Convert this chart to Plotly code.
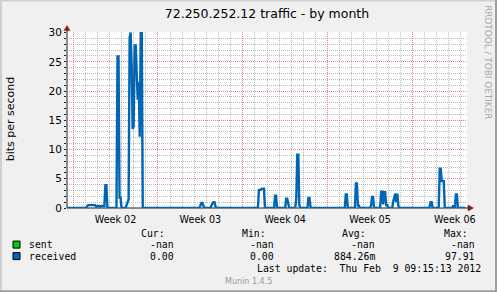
import plotly.graph_objects as go
import pandas as pd

# ---------------- data ----------------
title_text = "72.250.252.12 traffic - by month"
y_label = "bits per second"
base_time = pd.Timestamp("2012-01-08 00:00")   # Sunday, start of Week 02
range_start_hours = -12      # 2012-01-07 12:00
range_end_hours = 780        # 2012-02-09 12:00
data_start_hours = -12
data_end_hours = 777         # last update 2012-02-09 09:15
step_hours = 2

# spikes of the "received" series: start (hours after base_time) and consecutive 2h samples
seg_start_hours = [28, 88, 106, 252, 274, 368, 400, 422, 442, 466,
                   540, 560, 590, 610, 634, 706, 726, 752]
seg_values = [
    [0.3, 0.5, 0.5, 0.5, 0.5, 0.5, 0.5, 0.5, 0.5, 0.2, 0.35, 0.35, 0.35, 0.2,
     0.35, 0.35, 0.35, 0.35, 3.9, 3.9],
    [25.9, 25.9, 1.8, 1.8],
    [0.5, 1.0, 1.5, 29.2, 30, 24.5, 13.5, 14.0, 27.8, 27.8, 23, 18.5, 21.5, 12.2, 30, 30],
    [0.4, 0.85, 0.85, 0.3],
    [0.5, 0.8, 1.0, 1.0, 0.3],
    [3.1, 3.1, 3.1, 3.3, 3.3, 3.3],
    [2.1, 2.1],
    [1.6, 1.6, 0.8],
    [1.7, 9.1, 9.1, 0.5],
    [1.7, 1.7, 0.3],
    [2.3, 2.3],
    [4.2, 4.2, 0.4, 0.4],
    [0.4, 1.9, 1.9],
    [2.8, 2.8, 0.6, 2.7, 2.7, 0.5, 0.5],
    [1.1, 1.6, 2.45, 1.0, 2.45, 0.4],
    [0.2, 1.0, 1.0],
    [6.7, 6.7, 4.6, 4.6, 4.6],
    [0.3, 0.3, 0, 2.3, 2.3],
]

legend_names = ["sent", "received"]
legend_colors = ["#00CC00", "#0066B3"]
stat_headers = ["Cur:", "Min:", "Avg:", "Max:"]
stats_sent = ["-nan", "-nan", "-nan", "-nan"]
stats_received = ["0.00", "0.00", "884.26m", "97.91"]
last_update = "Last update:  Thu Feb  9 09:15:13 2012"
footer = "Munin 1.4.5"
watermark = "RRDTOOL / TOBI OETIKER"

# ---------------- build series ----------------
hours, vals = [data_start_hours], [0]
for s, seg in zip(seg_start_hours, seg_values):
    hours.append(s - step_hours); vals.append(0)
    for i, v in enumerate(seg):
        hours.append(s + i * step_hours); vals.append(v)
    hours.append(s + len(seg) * step_hours); vals.append(0)
hours.append(data_end_hours); vals.append(0)
times = [base_time + pd.Timedelta(hours=h) for h in hours]

x_range = [base_time + pd.Timedelta(hours=range_start_hours),
           base_time + pd.Timedelta(hours=range_end_hours)]
# minor (daily) grid positions, excluding the weekly major lines
day_grid = [d for d in pd.date_range("2012-01-08", "2012-02-10", freq="D") if d.dayofweek != 6]
y_minor = [v for v in range(0, 31) if v % 5]

# ---------------- layout geometry ----------------
W, H = 497, 292
ML, MR = 67, 30
PB = 208.0          # pixel y of value 0
Y_TOP = 30.1
PX_PER_UNIT = 175.0 / 30.0
plot_h = Y_TOP * PX_PER_UNIT
MT = PB - plot_h
MB = H - PB
plot_w = W - ML - MR


def xp(px):
    return (px - ML) / plot_w


def yp(py):
    return (PB - py) / plot_h


MONO = "DejaVu Sans Mono"
SANS = "DejaVu Sans"
MGRID = "rgba(222,79,79,0.7)"
GRID = "rgba(143,143,143,0.6)"

fig = go.Figure()
fig.add_trace(go.Scatter(x=times, y=vals, mode="lines",
                         line=dict(color=legend_colors[1], width=2.4),
                         hoverinfo="skip", showlegend=False))

annotations = []


def ann(text, px, py, xanchor="left", size=9.8, color="#000000", family=MONO, angle=0):
    annotations.append(dict(text=text.replace(" ", "\u00a0"), x=xp(px), y=yp(py),
                            xref="paper", yref="paper", showarrow=False,
                            xanchor=xanchor, yanchor="middle", textangle=angle,
                            font=dict(family=family, size=size, color=color)))


ann(y_label, 10.5, 119, "center", size=11, family=SANS, angle=-90)
ann(watermark, 488.5, 62, "center", size=8.9, color="#A8A8A8", family=SANS, angle=90)

hdr_right = [167, 268, 368, 470]
val_right = [176, 276, 377, 477]
for t, r in zip(stat_headers, hdr_right):
    ann(t, r, 233.3, "right")
ann(legend_names[0], 26.5, 244.5)
ann(legend_names[1], 26.5, 256)
for t, r in zip(stats_sent, val_right):
    ann(t, r, 244.5, "right")
for t, r in zip(stats_received, val_right):
    ann(t, r, 256, "right")
ann(last_update, 483, 268.7, "right")
ann(footer, 248, 281.7, "center", size=8, color="#999999", family=SANS)

shapes = []


def rect(x0, y0, x1, y1, fill, line_color, lw=1, layer="above"):
    shapes.append(dict(type="rect", xref="paper", yref="paper",
                       x0=xp(x0), x1=xp(x1), y0=yp(y0), y1=yp(y1),
                       fillcolor=fill, line=dict(color=line_color, width=lw), layer=layer))


def line(x0, y0, x1, y1, color, lw=1, layer="above"):
    shapes.append(dict(type="line", xref="paper", yref="paper",
                       x0=xp(x0), x1=xp(x1), y0=yp(y0), y1=yp(y1),
                       line=dict(color=color, width=lw), layer=layer))


def tri(points, color):
    path = "M " + " L ".join(f"{xp(a)},{yp(b)}" for a, b in points) + " Z"
    shapes.append(dict(type="path", xref="paper", yref="paper", path=path,
                       fillcolor=color, line=dict(color=color, width=0.5), layer="above"))


# outer frame (shade)
line(0, 1, W, 1, "#CFCFCF", 2)
line(1, 0, 1, H, "#CFCFCF", 2)
line(0, H - 1, W, H - 1, "#9E9E9E", 2)
line(W - 1, 0, W - 1, H, "#9E9E9E", 2)

# axes with arrows
line(67, PB, 469, PB, "#1F1F1F", 1, layer="between")
line(67, PB, 67, 30, "#1F1F1F", 1, layer="between")
tri([(64, 31), (70, 31), (67, 26)], "#801F1F")
tri([(468, 205), (468, 211), (473.5, 208)], "#801F1F")

# legend squares
rect(13, 241, 20, 248, legend_colors[0], "#000000", 1)
rect(13, 252.5, 20, 259.5, legend_colors[1], "#000000", 1)

fig.update_layout(
    width=W, height=H, autosize=False,
    margin=dict(l=ML, r=MR, t=MT, b=MB, pad=0),
    paper_bgcolor="#F0F0F0", plot_bgcolor="#FFFFFF",
    title=dict(text=title_text, x=0.5, xref="paper", xanchor="center",
               y=1 - 13.5 / H, yref="container", yanchor="middle",
               font=dict(family=SANS, size=12.5, color="#000000")),
    showlegend=False,
    annotations=annotations,
    shapes=shapes,
    xaxis=dict(type="date", range=x_range,
               tick0="2012-01-08", dtick=7 * 86400000,
               ticklabelmode="period", tickformat="Week %U",
               showgrid=True, gridcolor=MGRID, griddash="1px,1px", gridwidth=1,
               minor=dict(tickmode="array", tickvals=day_grid, showgrid=True,
                          gridcolor=GRID, griddash="1px,1px", gridwidth=1),
               zeroline=False, showline=False, ticks="", ticklabelstandoff=4,
               tickfont=dict(family=SANS, size=9.6, color="#000000"),
               fixedrange=True),
    yaxis=dict(range=[0, Y_TOP], tick0=0, dtick=5,
               showgrid=True, gridcolor=MGRID, griddash="1px,1px", gridwidth=1,
               minor=dict(tickmode="array", tickvals=y_minor, showgrid=True,
                          ticks="outside", ticklen=2, tickcolor="#1F1F1F",
                          gridcolor=GRID, griddash="1px,1px", gridwidth=1),
               ticks="outside", ticklen=2, tickcolor="#1F1F1F",
               zeroline=False, showline=False,
               tickfont=dict(family=SANS, size=10.5, color="#000000"),
               fixedrange=True),
)

fig.write_html("out.html", config={"displayModeBar": False})
